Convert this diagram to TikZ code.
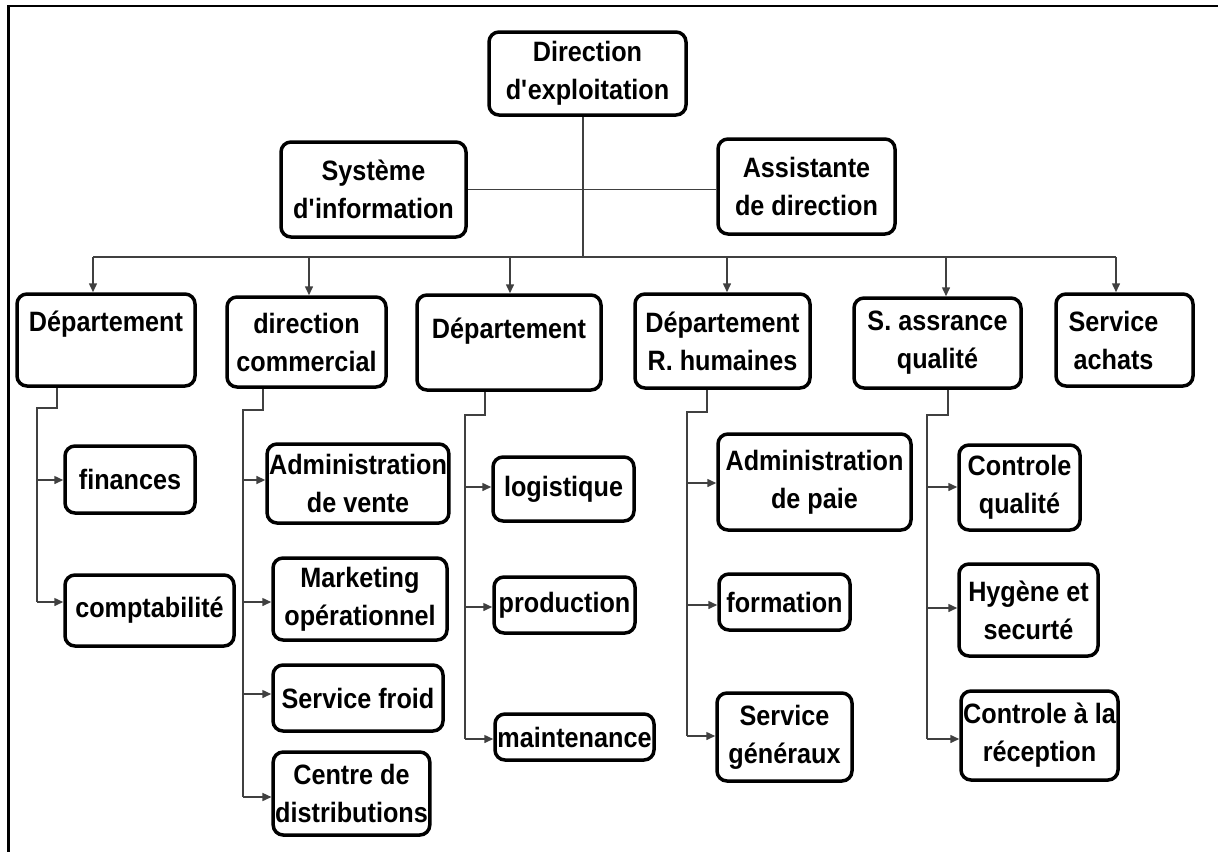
\documentclass[tikz,border=0pt]{standalone}
\usepackage{fontspec}
\setmainfont{Liberation Sans}[FakeStretch=0.9]
\usetikzlibrary{arrows.meta}
\tikzset{
  box/.style={draw=black, line width=3.5pt, rounded corners=10pt, align=center,
    font=\bfseries\fontsize{28}{38}\selectfont, inner sep=2pt},
  conn/.style={line width=1.5pt, draw=black!75},
  arr/.style={conn, -{Triangle[length=9pt,width=8pt]}},
  frame/.style={draw=black}
}
\begin{document}
\begin{tikzpicture}[x=1pt,y=-1pt]
\useasboundingbox (0,0) rectangle (1218,852);
% frame
\draw[frame, line width=2pt] (7,6) -- (1218,6);
\draw[frame, line width=3pt] (8,5) -- (8,852);

% top level
\node[box, minimum width=197pt, minimum height=83pt] (dir) at (587.5,73.5) {Direction\\d\textquotesingle exploitation};
\node[box, minimum width=185pt, minimum height=95pt] (sys) at (373.5,189.5) {Système\\d\textquotesingle information};
\node[box, minimum width=177pt, minimum height=95pt] (asst) at (806.5,186.5) {Assistante\\de direction};

% level 2
\node[box, minimum width=178pt, minimum height=92pt] (d1) at (106,340) {Département\\\mbox{}};
\node[box, minimum width=159pt, minimum height=90pt] (dc) at (306.5,342) {direction\\commercial};
\node[box, minimum width=184pt, minimum height=95pt] (d2) at (509,342.5) {Département\\[-10pt]\mbox{}};
\node[box, minimum width=175pt, minimum height=94pt] (rh) at (722.5,341) {Département\\R. humaines};
\node[box, minimum width=167pt, minimum height=90pt] (saq) at (937.5,343) {S. assrance\\qualité};
\node[box, minimum width=137pt, minimum height=92pt] (sa) at (1124.5,340) {Service\hspace*{22pt}\\achats\hspace*{22pt}};

% level 3
\node[box, minimum width=130pt, minimum height=67pt] (fin) at (130,479.5) {finances};
\node[box, minimum width=169pt, minimum height=71pt] (comp) at (149.5,610.5) {comptabilité};

\node[box, minimum width=176pt, minimum height=79pt] (adv) at (358,483.5) {Administration\\de vente};
\node[box, minimum width=174pt, minimum height=82pt] (mkt) at (360,599) {Marketing\\opérationnel};
\node[box, minimum width=170pt, minimum height=66pt] (sf) at (358,698) {Service froid};
\node[box, minimum width=155pt, minimum height=83pt] (cd) at (351.5,793.5) {Centre de\\distributions};

\node[box, minimum width=141pt, minimum height=64pt] (log) at (563.5,489) {logistique};
\node[box, minimum width=141pt, minimum height=56pt] (prod) at (564.5,605) {production};
\node[box, minimum width=159pt, minimum height=46pt] (maint) at (574.5,737) {maintenance};

\node[box, minimum width=193pt, minimum height=96pt] (adp) at (814.5,482) {Administration\\de paie};
\node[box, minimum width=131pt, minimum height=56pt] (form) at (784.5,602) {formation};
\node[box, minimum width=135pt, minimum height=88pt] (sg) at (784.5,737) {Service\\généraux};

\node[box, minimum width=121pt, minimum height=85pt] (cq) at (1019.5,487.5) {Controle\\qualité};
\node[box, minimum width=139pt, minimum height=92pt] (hs) at (1028.5,610) {Hygène et\\securté};
\node[box, minimum width=157pt, minimum height=89pt] (cr) at (1039.5,735.5) {Controle à la\\réception};

% top connectors
\coordinate (bus) at (583,257);
\coordinate (busL) at (93,257);
\coordinate (busR) at (1116,257);
\draw[conn] (dir.south -| bus) -- (bus);
\draw[conn] (sys.east) -- (sys.east -| asst.west);
\draw[conn] (busL) -- (busR);
\coordinate (a1) at (93,257);
\coordinate (a2) at (309,257);
\coordinate (a3) at (510,257);
\coordinate (a4) at (727,257);
\coordinate (a5) at (946,257);
\coordinate (a6) at (1116,257);
\draw[arr] (a1) -- (a1 |- d1.north);
\draw[arr] (a2) -- (a2 |- dc.north);
\draw[arr] (a3) -- (a3 |- d2.north);
\draw[arr] (a4) -- (a4 |- rh.north);
\draw[arr] (a5) -- (a5 |- saq.north);
\draw[arr] (a6) -- (a6 |- sa.north);

% subtree d1
\coordinate (p1) at (57,408);
\coordinate (v1) at (37,408);
\coordinate (v1a) at (37,480);
\coordinate (v1b) at (37,602);
\draw[conn] (p1 |- d1.south) -- (p1) -- (v1) -- (v1b);
\draw[arr] (v1a) -- (v1a -| fin.west);
\draw[arr] (v1b) -- (v1b -| comp.west);

% subtree dc
\coordinate (p2) at (263,410);
\coordinate (v2) at (243,410);
\coordinate (v2a) at (243,480);
\coordinate (v2b) at (243,602);
\coordinate (v2c) at (243,694);
\coordinate (v2d) at (243,797);
\draw[conn] (p2 |- dc.south) -- (p2) -- (v2) -- (v2d);
\draw[arr] (v2a) -- (v2a -| adv.west);
\draw[arr] (v2b) -- (v2b -| mkt.west);
\draw[arr] (v2c) -- (v2c -| sf.west);
\draw[arr] (v2d) -- (v2d -| cd.west);

% subtree d2
\coordinate (p3) at (485,415);
\coordinate (v3) at (465,415);
\coordinate (v3a) at (465,487);
\coordinate (v3b) at (465,607);
\coordinate (v3c) at (465,739);
\draw[conn] (p3 |- d2.south) -- (p3) -- (v3) -- (v3c);
\draw[arr] (v3a) -- (v3a -| log.west);
\draw[arr] (v3b) -- (v3b -| prod.west);
\draw[arr] (v3c) -- (v3c -| maint.west);

% subtree rh
\coordinate (p4) at (707,412);
\coordinate (v4) at (687,412);
\coordinate (v4a) at (687,483);
\coordinate (v4b) at (687,605);
\coordinate (v4c) at (687,736);
\draw[conn] (p4 |- rh.south) -- (p4) -- (v4) -- (v4c);
\draw[arr] (v4a) -- (v4a -| adp.west);
\draw[arr] (v4b) -- (v4b -| form.west);
\draw[arr] (v4c) -- (v4c -| sg.west);

% subtree saq
\coordinate (p5) at (948,415);
\coordinate (v5) at (927,415);
\coordinate (v5a) at (927,487);
\coordinate (v5b) at (927,608);
\coordinate (v5c) at (927,739);
\draw[conn] (p5 |- saq.south) -- (p5) -- (v5) -- (v5c);
\draw[arr] (v5a) -- (v5a -| cq.west);
\draw[arr] (v5b) -- (v5b -| hs.west);
\draw[arr] (v5c) -- (v5c -| cr.west);
\end{tikzpicture}
\end{document}
